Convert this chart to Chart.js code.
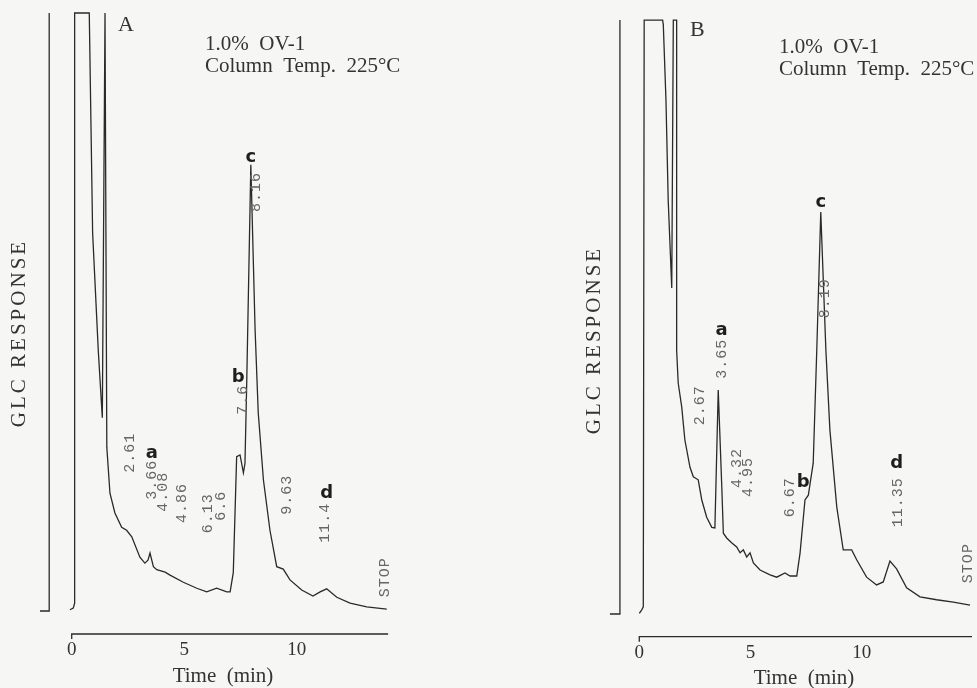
<!DOCTYPE html>
<html>
<head>
<meta charset="utf-8">
<script src="https://cdn.jsdelivr.net/npm/chart.js@4.4.1/dist/chart.umd.min.js"></script>
<style>
  body { margin: 0; background: #f6f6f5; }
  canvas { position: absolute; top: 0; }
</style>
</head>
<body>
<canvas id="chartA" width="488" height="688" style="left:0"></canvas>
<canvas id="chartB" width="489" height="688" style="left:488px"></canvas>
<script>
// chromatogram A (time in min, response in % of full scale)
const timeA = [-0.08, 0.07, 0.13, 0.13, 0.78, 0.93, 1.18, 1.36, 1.48, 1.52, 1.56, 1.70, 1.92, 2.22, 2.44, 2.67,
  3.03, 3.25, 3.39, 3.48, 3.63, 3.78, 4.15, 4.37, 4.96, 5.56, 6.00, 6.44, 6.89, 7.04, 7.18, 7.33, 7.48, 7.63,
  7.70, 7.78, 7.96, 8.15, 8.29, 8.52, 8.81, 9.11, 9.40, 9.70, 10.22, 10.72, 11.04, 11.33, 11.78, 12.37, 13.11, 14.00];
const respA = [0.2, 0.5, 1.3, 100, 100, 63.2, 43.6, 32.3, 100, 100, 27.4, 19.7, 16.4, 14.0, 13.5, 12.4,
  9.0, 8.0, 8.5, 9.7, 7.4, 6.9, 6.5, 6.0, 4.8, 3.8, 3.2, 3.8, 3.2, 3.2, 6.4, 25.8, 26.1, 23.1,
  24.7, 38.6, 74.6, 47.0, 33.1, 21.9, 13.5, 7.4, 7.0, 5.2, 3.5, 2.5, 3.2, 3.7, 2.3, 1.3, 0.7, 0.3];
const markTimeA = [-1.41, -1.0, -1.0];
const markRespA = [0, 0, 100];

// chromatogram B
const timeB = [0.00, 0.11, 0.18, 0.22, 1.05, 1.08, 1.20, 1.30, 1.46, 1.53, 1.68, 1.68, 1.75, 1.91, 2.05, 2.28,
  2.43, 2.65, 2.81, 3.03, 3.26, 3.40, 3.55, 3.71, 3.78, 3.93, 4.15, 4.38, 4.53, 4.68, 4.83, 4.98, 5.13, 5.43,
  5.88, 6.18, 6.55, 6.78, 7.08, 7.23, 7.45, 7.60, 7.82, 7.98, 8.16, 8.39, 8.57, 8.88, 9.17, 9.55, 9.78, 10.22,
  10.67, 10.97, 11.27, 11.57, 12.02, 12.62, 13.37, 14.12, 14.87];
const respB = [0.1, 0.7, 1.2, 100, 100, 99.2, 86.5, 69.7, 54.9, 100, 100, 44.4, 38.9, 34.8, 29.3, 24.7,
  23.1, 22.6, 19.2, 16.3, 14.6, 14.5, 37.7, 21.4, 13.6, 12.8, 12.0, 11.3, 10.3, 10.8, 9.6, 10.3, 8.6, 7.4,
  6.6, 6.2, 6.9, 6.4, 6.4, 10.3, 19.2, 20.0, 25.4, 44.4, 67.7, 44.4, 31.0, 18.0, 10.8, 10.8, 9.1, 6.2,
  4.9, 5.4, 8.9, 7.6, 4.4, 2.9, 2.4, 2.0, 1.5];
const markTimeB = [-1.32, -0.87, -0.87];
const markRespB = [0, 0, 100];

// integrator printout (text, time, response at foot of text)
const rtTextA = ['2.61', '3.66', '4.08', '4.86', '6.13', '6.6', '7.6', '8.16', '9.63', '11.4', 'STOP'];
const rtTimeA = [2.59, 3.57, 4.06, 4.90, 6.08, 6.64, 7.61, 8.19, 9.57, 11.26, 13.92];
const rtRespA = [23.1, 18.6, 16.6, 14.7, 13.0, 15.1, 32.8, 66.7, 16.1, 11.4, 2.3];
const rtTextB = ['2.67', '3.65', '4.32', '4.95', '6.67', '8.19', '11.35', 'STOP'];
const rtTimeB = [2.73, 3.70, 4.39, 4.90, 6.78, 8.35, 11.65, 14.79];
const rtRespB = [31.8, 39.6, 21.2, 19.7, 16.3, 49.8, 14.6, 5.2];

// peak letters
const peakNames = ['a', 'b', 'c', 'd'];
const peakTimeA = [3.56, 7.40, 7.96, 11.33];
const peakRespA = [26.4, 39.1, 75.9, 19.7];
const peakTimeB = [3.70, 7.37, 8.16, 11.57];
const peakRespB = [47.8, 22.2, 69.4, 25.4];

const xTicks = [0, 5, 10];
const condLines = ['1.0%  OV-1', 'Column  Temp.  225\u00b0C'];

const SERIF = '"Liberation Serif", "DejaVu Serif", serif';
const INK = '#2a2a2a';

function pts(ts, vs) {
  return ts.map((t, i) => ({ x: t, y: vs[i] }));
}

function vText(ctx, text, x, y, align) {
  ctx.save();
  ctx.translate(x, y);
  ctx.rotate(-Math.PI / 2);
  ctx.textAlign = align;
  ctx.textBaseline = 'middle';
  ctx.fillText(text, 0, 0);
  ctx.restore();
}

const chromText = {
  id: 'chromText',
  afterDatasetsDraw(chart, args, o) {
    const { ctx, scales: { x, y } } = chart;
    ctx.save();

    // time axis
    const ay = chart.chartArea.bottom;
    ctx.strokeStyle = INK;
    ctx.lineWidth = 1.3;
    ctx.beginPath();
    ctx.moveTo(x.getPixelForValue(0), ay + 5);
    ctx.lineTo(x.getPixelForValue(0), ay);
    ctx.lineTo(x.getPixelForValue(o.axisEnd), ay);
    ctx.stroke();

    ctx.fillStyle = '#333';
    ctx.font = '19px ' + SERIF;
    ctx.textAlign = 'center';
    ctx.textBaseline = 'middle';
    xTicks.forEach(t => ctx.fillText(String(t), x.getPixelForValue(t), ay + 16));
    ctx.font = '21px ' + SERIF;
    ctx.fillText('Time  (min)', o.titleX, ay + 42);

    // response axis title
    ctx.font = '21px ' + SERIF;
    ctx.letterSpacing = '3px';
    vText(ctx, 'GLC RESPONSE', o.yTitleX, o.yTitleY, 'center');
    ctx.letterSpacing = '0px';

    // panel letter and conditions
    ctx.textAlign = 'left';
    ctx.textBaseline = 'alphabetic';
    ctx.font = '22px ' + SERIF;
    ctx.fillText(o.panel, o.panelX, o.panelY);
    ctx.font = '21px ' + SERIF;
    condLines.forEach((s, i) => ctx.fillText(s, o.condX, o.condY + i * 22));

    // integrator retention times
    ctx.fillStyle = '#666';
    ctx.font = '15px "Liberation Mono", "DejaVu Sans Mono", monospace';
    ctx.letterSpacing = '1px';
    o.rtText.forEach((s, i) => vText(ctx, s, x.getPixelForValue(o.rtTime[i]), y.getPixelForValue(o.rtResp[i]), 'left'));
    ctx.letterSpacing = '0px';

    // peak letters
    ctx.fillStyle = '#1e1e1e';
    ctx.font = 'bold 18px "DejaVu Sans", sans-serif';
    ctx.textAlign = 'center';
    ctx.textBaseline = 'middle';
    peakNames.forEach((s, i) => ctx.fillText(s, x.getPixelForValue(o.peakTime[i]), y.getPixelForValue(o.peakResp[i])));

    ctx.restore();
  }
};

function makeChart(id, trace, marker, xr, yr, pad, text) {
  const line = {
    showLine: true,
    pointRadius: 0,
    borderColor: INK,
    borderWidth: 1.3,
    tension: 0,
    fill: false
  };
  return new Chart(document.getElementById(id), {
    type: 'scatter',
    plugins: [chromText],
    data: {
      datasets: [
        Object.assign({ label: 'trace', data: trace }, line),
        Object.assign({ label: 'marker', data: marker }, line)
      ]
    },
    options: {
      responsive: false,
      animation: false,
      devicePixelRatio: 1,
      layout: { padding: pad },
      scales: {
        x: { type: 'linear', min: xr[0], max: xr[1], display: false },
        y: { type: 'linear', min: yr[0], max: yr[1], display: false }
      },
      plugins: {
        legend: { display: false },
        tooltip: { enabled: false },
        chromText: text
      }
    }
  });
}

makeChart('chartA', pts(timeA, respA), pts(markTimeA, markRespA),
  [-2, 14.5], [-3.85, 100.5],
  { left: 26.7, right: 90, top: 10, bottom: 54 },
  {
    axisEnd: 14.06, titleX: 223, yTitleX: 19, yTitleY: 333,
    panel: 'A', panelX: 118, panelY: 31, condX: 205, condY: 50,
    rtText: rtTextA, rtTime: rtTimeA, rtResp: rtRespA,
    peakTime: peakTimeA, peakResp: peakRespA
  });

makeChart('chartB', pts(timeB, respB), pts(markTimeB, markRespB),
  [-2, 15], [-3.82, 101.7],
  { left: 106.8, right: 4.1, top: 10, bottom: 51.3 },
  {
    axisEnd: 14.96, titleX: 316, yTitleX: 106, yTitleY: 340,
    panel: 'B', panelX: 202, panelY: 36, condX: 291, condY: 53,
    rtText: rtTextB, rtTime: rtTimeB, rtResp: rtRespB,
    peakTime: peakTimeB, peakResp: peakRespB
  });
</script>
</body>
</html>
